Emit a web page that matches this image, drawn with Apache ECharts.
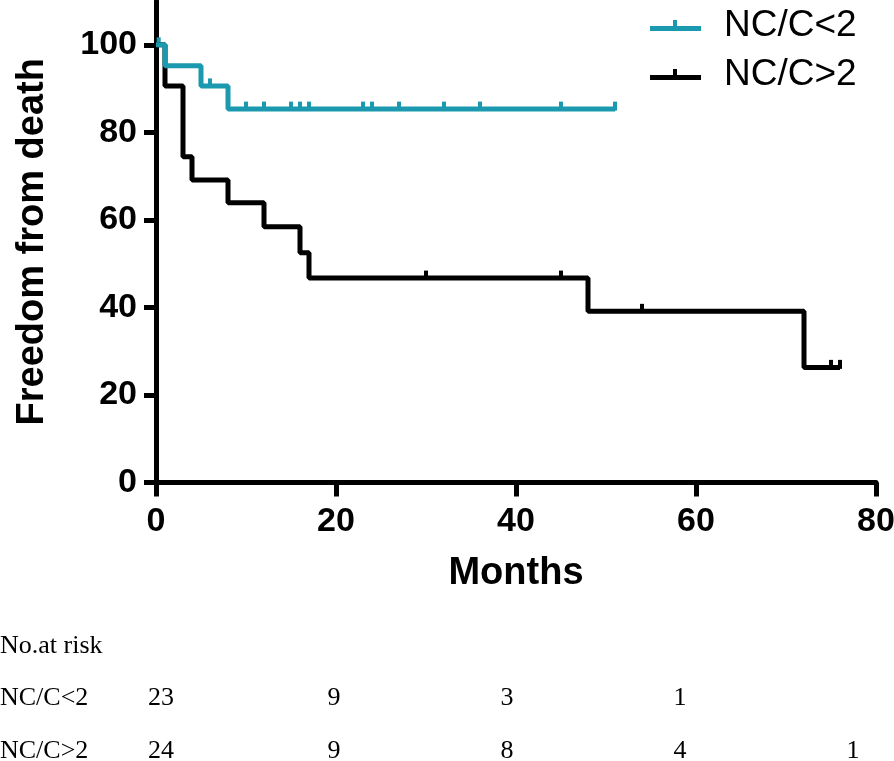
<!DOCTYPE html>
<html>
<head>
<meta charset="utf-8">
<title>NC/C survival</title>
<script src="https://cdn.jsdelivr.net/npm/echarts/dist/echarts.min.js"></script>
<style>
    html, body { margin: 0; padding: 0; background: #fff; }
    #main { width: 894px; height: 761px; }
</style>
</head>
<body>
<div id="main"></div>
<script>
// Kaplan-Meier steps [month, % free from death]
var lowSteps = [[0, 100], [1, 95.2], [5, 90.6], [8, 85.3], [51, 85.3]];
var highSteps = [[0, 100], [1, 90.6], [3, 74.4], [4, 69.1], [8, 63.9], [12, 58.4],
    [16, 52.5], [17, 46.7], [48, 39.1], [72, 26.3], [76, 26.3]];
// censored patients
var lowCensor = [[0.3, 100], [6, 90.6], [10, 85.3], [12, 85.3], [15, 85.3], [16, 85.3], [17, 85.3],
    [23, 85.3], [24, 85.3], [27, 85.3], [32, 85.3], [36, 85.3], [45, 85.3], [51, 85.3]];
var highCensor = [[30, 46.7], [45, 46.7], [54, 39.1], [75, 26.3], [76, 26.3]];

var yTicks = [0, 20, 40, 60, 80, 100];
var riskRows = ['No.at risk', 'NC/C<2', 'NC/C>2'];
var riskMonths = [0, 20, 40, 60, 80];
var riskLow = [23, 9, 3, 1];
var riskHigh = [24, 9, 8, 4, 1];

var blue = '#1b99ae';
var legendIcon = 'path://M0,6H51V11H0Z M23,0H27V6H23Z';

var riskData = [];
riskLow.forEach(function (n, i) { riskData.push([riskMonths[i], 1, n]); });
riskHigh.forEach(function (n, i) { riskData.push([riskMonths[i], 2, n]); });

var myChart = echarts.init(document.getElementById('main'));

option = {
    animation: false,
    legend: {
        orient: 'vertical',
        left: 645,
        top: 2,
        itemWidth: 51,
        itemHeight: 11,
        itemGap: 12,
        icon: legendIcon,
        data: ['NC/C<2', 'NC/C>2'],
        textStyle: {
            fontFamily: 'Liberation Sans',
            fontSize: 37,
            color: '#000',
            lineHeight: 36,
            padding: [0, 0, 0, 18]
        }
    },
    grid: [
        {left: 156, right: 18, top: 1, bottom: 278.5, outerBoundsMode: 'none'},
        {left: 161, right: 41, top: 646, bottom: 10, outerBoundsMode: 'none'}
    ],
    xAxis: [
        {
            gridIndex: 0,
            type: 'value',
            min: 0,
            max: 80,
            interval: 20,
            name: 'Months',
            nameLocation: 'middle',
            nameGap: 72,
            nameTextStyle: {fontFamily: 'Liberation Sans', fontWeight: 'bold', fontSize: 38, color: '#000'},
            axisLine: {lineStyle: {color: '#000', width: 5}},
            axisTick: {length: 14, lineStyle: {color: '#000', width: 5}},
            axisLabel: {margin: 22, fontFamily: 'Liberation Sans', fontWeight: 'bold', fontSize: 34, color: '#000'},
            splitLine: {show: false}
        },
        {
            gridIndex: 1,
            type: 'value',
            min: 0,
            max: 80,
            show: false
        }
    ],
    yAxis: [
        {
            gridIndex: 0,
            type: 'value',
            min: 0,
            max: 110,
            interval: 20,
            name: 'Freedom from death',
            nameLocation: 'middle',
            nameGap: 104,
            nameTextStyle: {fontFamily: 'Liberation Sans', fontWeight: 'bold', fontSize: 38, color: '#000'},
            axisLine: {show: true, lineStyle: {color: '#000', width: 5}},
            axisTick: {show: true, length: 12, customValues: yTicks, lineStyle: {color: '#000', width: 5}},
            axisLabel: {margin: 19, customValues: yTicks, fontFamily: 'Liberation Sans', fontWeight: 'bold', fontSize: 34, color: '#000'},
            splitLine: {show: false}
        },
        {
            gridIndex: 1,
            type: 'value',
            min: 0,
            max: 2,
            interval: 1,
            inverse: true,
            axisLine: {show: false},
            axisTick: {show: false},
            splitLine: {show: false},
            axisLabel: {
                align: 'left',
                margin: 161,
                fontFamily: 'Liberation Serif',
                fontSize: 26,
                color: '#000',
                formatter: function (v) { return riskRows[v]; }
            }
        }
    ],
    series: [
        {
            name: 'NC/C>2',
            type: 'line',
            step: 'end',
            showSymbol: false,
            color: '#000',
            lineStyle: {width: 5, color: '#000'},
            data: highSteps
        },
        {
            name: 'NC/C>2',
            type: 'scatter',
            symbol: 'rect',
            symbolSize: [4, 9],
            symbolOffset: [0, -3],
            itemStyle: {color: '#000', opacity: 1},
            data: highCensor
        },
        {
            name: 'NC/C<2',
            type: 'line',
            step: 'end',
            showSymbol: false,
            color: blue,
            lineStyle: {width: 5, color: blue},
            data: lowSteps
        },
        {
            name: 'NC/C<2',
            type: 'scatter',
            symbol: 'rect',
            symbolSize: [4, 9],
            symbolOffset: [0, -3],
            itemStyle: {color: blue, opacity: 1},
            data: lowCensor
        },
        {
            name: 'risk',
            type: 'scatter',
            xAxisIndex: 1,
            yAxisIndex: 1,
            symbolSize: 0,
            silent: true,
            itemStyle: {opacity: 1},
            label: {
                show: true,
                position: 'inside',
                fontFamily: 'Liberation Serif',
                fontSize: 26,
                color: '#000',
                formatter: function (p) { return p.value[2]; }
            },
            data: riskData
        }
    ]
};
/*调用option生成图表*/
myChart.setOption(option);
</script>
</body>
</html>
